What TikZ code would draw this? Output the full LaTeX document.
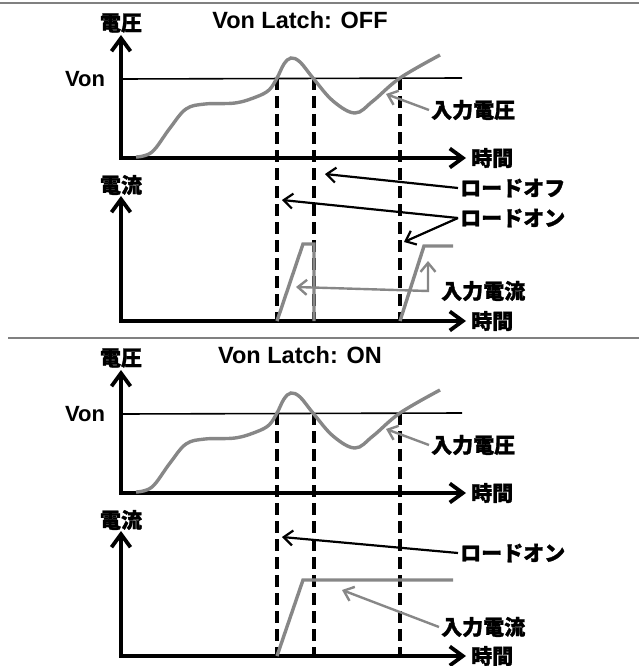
\documentclass[tikz,border=0pt]{standalone}
\usepackage{fontspec}
\setmainfont{Liberation Sans}
\newfontfamily\jpfont[BoldFeatures={FakeBold=1.2}]{Noto Sans CJK JP}
\usetikzlibrary{arrows.meta}
\definecolor{wavegray}{gray}{0.53}
\definecolor{rulegray}{gray}{0.5}

\begin{document}
\begin{tikzpicture}[x=1pt, y=-1pt,
	axis/.style={line width=3.8pt, line join=miter,
	             {Straight Barb[length=13pt,width=19pt]}-{Straight Barb[length=13pt,width=19pt]}},
	vonline/.style={line width=1.6pt},
	wave/.style={draw=wavegray, line width=3.4pt, line join=miter},
	marker/.style={line width=3.2pt, dash pattern=on 12pt off 6pt},
	note/.style={line width=2.2pt, -{Straight Barb[length=9pt,width=15pt]}},
	notegray/.style={draw=wavegray, line width=2.4pt, -{Straight Barb[length=9pt,width=15pt]}},
	ttl/.style={font=\bfseries\fontsize{23.5}{27}\selectfont, inner sep=0pt},
	lat/.style={font=\bfseries\fontsize{22}{24}\selectfont, inner sep=0pt},
	jp/.style={font=\jpfont\bfseries\fontsize{21}{23}\selectfont, inner sep=2pt},
	rule/.style={draw=rulegray, line width=2.5pt}
	]
\useasboundingbox (0,0) rectangle (639,666);
\draw[rule] (0,3) -- (639,3);
\draw[rule] (8,338) -- (639,338);

% Von Latch: OFF
\node[ttl] (ttla) at (300,20) {Von Latch: OFF};
\node[jp] (ua) at (121,23) {電圧};
\node[lat] (vona) at (85,79) {Von};
\coordinate (oa) at (121,158);
\coordinate (yta) at (121,35);
\coordinate (xta) at (466,158);
\draw[vonline] (oa |- vona) -- (462,78);
\draw[marker] (277,78) -- (277,321);
\draw[marker] (314,78) -- (314,321);
\draw[marker] (400,78) -- (400,321);
\draw[axis] (yta) -- (oa) -- (xta);
\draw[wave] plot[smooth, tension=0.6] coordinates {(136,157) (152,152) (170,128) (186,109)
	(205,104) (235,103) (256,97) (269,90) (277,78) (284,64) (291,58) (300,62) (313,78)
	(333,101) (355,113) (373,101) (400,78) (440,55)};
\node[jp, anchor=west] (t1a) at (469,158) {時間};
\node[jp, anchor=west] (vina) at (429,110) {入力電圧};
\coordinate (pva) at (386,94);
\draw[notegray] (vina.west) -- (pva);

\node[jp] (ia) at (121,185) {電流};
\coordinate (oia) at (121,321);
\coordinate (yia) at (121,196);
\coordinate (xia) at (466,321);
\draw[axis] (yia) -- (oia) -- (xia);
\draw[wave] (277,321) -- (303,244) -- (314,244) -- (314,321);
\draw[wave] (400,321) -- (424,246) -- (453,246);
\node[jp, anchor=west] (t2a) at (469,321) {時間};
\node[jp, anchor=west] (offa) at (458,188) {ロードオフ};
\node[jp, anchor=west] (ona) at (458,218) {ロードオン};
\node[jp, anchor=west] (iina) at (439,291) {入力電流};
\coordinate (poffa) at (325,174);
\coordinate (pon1a) at (282,200);
\coordinate (pon2a) at (404,242);
\coordinate (kia) at (428,291);
\coordinate (pi1a) at (296,287);
\coordinate (pi2a) at (428,261);
\draw[note] (offa.west) -- (poffa);
\draw[note] (ona.west) -- (pon1a);
\draw[note] (ona.west) -- (pon2a);
\draw[notegray, {Straight Barb[length=9pt,width=15pt]}-{Straight Barb[length=9pt,width=15pt]}]
	(pi1a) -- (kia) -- (pi2a);

% Von Latch: ON
\begin{scope}[yshift=-335pt]
\node[ttl] (ttlb) at (300,20) {Von Latch: ON};
\node[jp] (ub) at (121,23) {電圧};
\node[lat] (vonb) at (85,79) {Von};
\coordinate (ob) at (121,158);
\coordinate (ytb) at (121,35);
\coordinate (xtb) at (466,158);
\draw[vonline] (ob |- vonb) -- (462,78);
\draw[marker] (277,78) -- (277,321);
\draw[marker] (314,78) -- (314,321);
\draw[marker] (400,78) -- (400,321);
\draw[axis] (ytb) -- (ob) -- (xtb);
\draw[wave] plot[smooth, tension=0.6] coordinates {(136,157) (152,152) (170,128) (186,109)
	(205,104) (235,103) (256,97) (269,90) (277,78) (284,64) (291,58) (300,62) (313,78)
	(333,101) (355,113) (373,101) (400,78) (440,55)};
\node[jp, anchor=west] (t1b) at (469,158) {時間};
\node[jp, anchor=west] (vinb) at (429,110) {入力電圧};
\coordinate (pvb) at (386,94);
\draw[notegray] (vinb.west) -- (pvb);

\node[jp] (ib) at (121,185) {電流};
\coordinate (oib) at (121,321);
\coordinate (yib) at (121,196);
\coordinate (xib) at (466,321);
\draw[axis] (yib) -- (oib) -- (xib);
\draw[wave] (277,321) -- (303,245) -- (453,245);
\node[jp, anchor=west] (t2b) at (469,321) {時間};
\node[jp, anchor=west] (onb) at (458,218) {ロードオン};
\node[jp, anchor=west] (iinb) at (439,292) {入力電流};
\coordinate (ponb) at (282,202);
\coordinate (pib) at (342,255);
\draw[note] (onb.west) -- (ponb);
\draw[notegray] (iinb.west) -- (pib);
\end{scope}
\end{tikzpicture}
\end{document}
